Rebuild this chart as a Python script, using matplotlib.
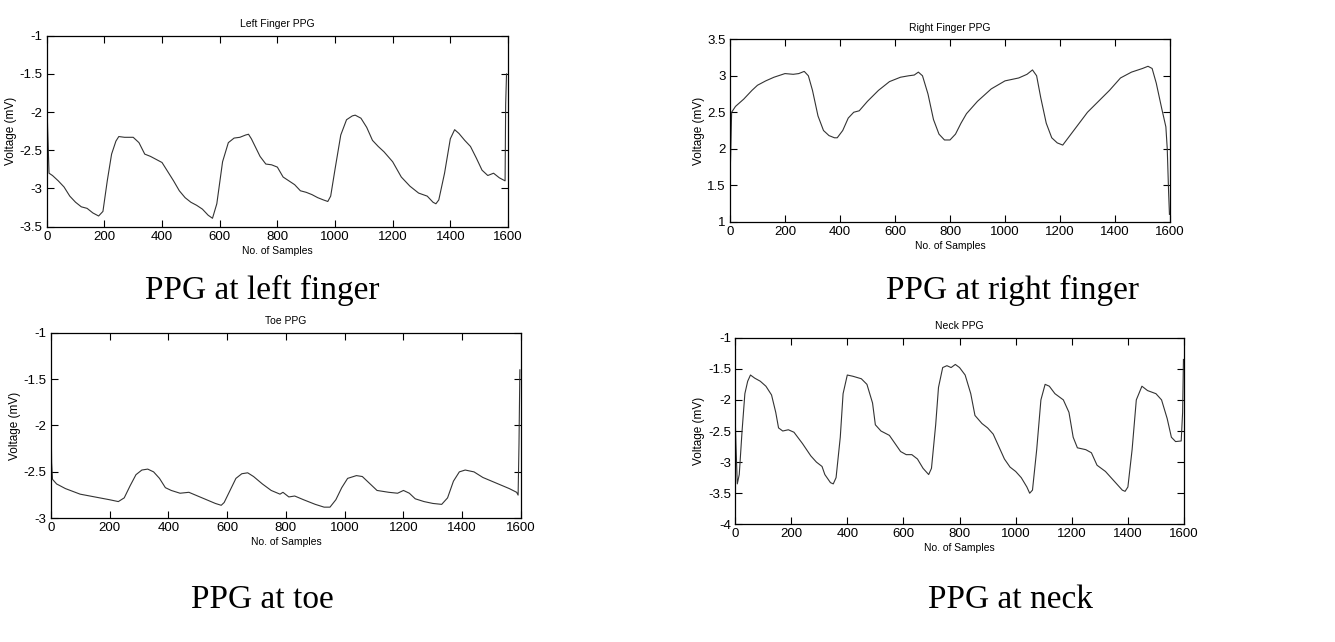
import matplotlib.pyplot as plt

plt.rcParams['font.family'] = ['Liberation Sans', 'DejaVu Sans']

# Digitised samples (sample index, voltage) for each recording site
left_x = [0, 3, 8, 20, 40, 60, 80, 100, 120, 140, 160, 180, 195, 210, 225, 240, 250, 270, 300, 320,
          340, 360, 380, 400, 420, 440, 460, 480, 500, 520, 540, 560, 575, 590, 610, 630, 650, 670,
          690, 700, 710, 740, 760, 780, 800, 820, 840, 860, 880, 900, 920, 940, 960, 975, 985, 1000,
          1020, 1040, 1060, 1070, 1090, 1110, 1130, 1150, 1170, 1200, 1230, 1260, 1290, 1320, 1340,
          1350, 1360, 1380, 1400, 1415, 1430, 1450, 1470, 1490, 1510, 1530, 1550, 1570, 1590, 1592, 1595]
left_y = [-1.75, -2.2, -2.8, -2.83, -2.9, -2.98, -3.1, -3.18, -3.24, -3.26, -3.32, -3.36, -3.3, -2.9,
          -2.55, -2.38, -2.32, -2.33, -2.33, -2.4, -2.55, -2.58, -2.62, -2.66, -2.78, -2.9, -3.03, -3.12,
          -3.18, -3.22, -3.27, -3.35, -3.39, -3.2, -2.65, -2.4, -2.34, -2.33, -2.3, -2.29, -2.35, -2.58,
          -2.68, -2.69, -2.72, -2.85, -2.9, -2.95, -3.03, -3.05, -3.08, -3.12, -3.15, -3.17, -3.1, -2.75,
          -2.3, -2.1, -2.05, -2.04, -2.08, -2.2, -2.37, -2.45, -2.52, -2.65, -2.85, -2.97, -3.06, -3.1,
          -3.18, -3.2, -3.15, -2.8, -2.35, -2.23, -2.28, -2.37, -2.45, -2.6, -2.76, -2.83, -2.8, -2.86,
          -2.9, -1.9, -1.5]

right_x = [0, 3, 6, 20, 50, 80, 100, 130, 160, 200, 230, 250, 270, 285, 300, 320, 340, 360, 380, 390,
           410, 430, 450, 470, 500, 540, 580, 620, 650, 670, 685, 700, 720, 740, 760, 780, 800, 820, 840,
           860, 900, 950, 1000, 1050, 1080, 1100, 1115, 1130, 1150, 1170, 1190, 1210, 1230, 1260, 1300,
           1340, 1380, 1420, 1460, 1500, 1520, 1535, 1550, 1570, 1585, 1590, 1595, 1598]
right_y = [1.55, 2.0, 2.5, 2.58, 2.68, 2.8, 2.87, 2.93, 2.98, 3.03, 3.02, 3.03, 3.06, 3.0, 2.8, 2.45,
           2.25, 2.18, 2.15, 2.15, 2.25, 2.42, 2.5, 2.52, 2.65, 2.8, 2.92, 2.98, 3.0, 3.01, 3.05, 3.0,
           2.75, 2.4, 2.2, 2.12, 2.12, 2.2, 2.35, 2.48, 2.65, 2.82, 2.93, 2.97, 3.02, 3.08, 3.0, 2.7,
           2.35, 2.15, 2.08, 2.05, 2.15, 2.3, 2.5, 2.65, 2.8, 2.97, 3.05, 3.1, 3.13, 3.1, 2.9, 2.55,
           2.3, 2.0, 1.4, 1.1]

toe_x = [0, 3, 6, 20, 50, 100, 150, 200, 230, 250, 270, 290, 310, 330, 350, 370, 390, 410, 440, 470,
         500, 530, 560, 580, 590, 610, 630, 650, 670, 690, 720, 750, 780, 790, 810, 830, 860, 900, 930,
         950, 970, 990, 1010, 1040, 1060, 1090, 1110, 1150, 1180, 1200, 1220, 1240, 1270, 1300, 1330,
         1350, 1370, 1390, 1410, 1440, 1470, 1500, 1530, 1560, 1585, 1590, 1593, 1596]
toe_y = [-1.6, -2.4, -2.58, -2.63, -2.68, -2.74, -2.77, -2.8, -2.82, -2.78, -2.65, -2.53, -2.48, -2.47,
         -2.5, -2.57, -2.67, -2.7, -2.73, -2.72, -2.76, -2.8, -2.84, -2.86, -2.83, -2.7, -2.57, -2.52,
         -2.51, -2.55, -2.63, -2.7, -2.74, -2.72, -2.77, -2.76, -2.8, -2.85, -2.88, -2.88, -2.8, -2.67,
         -2.57, -2.54, -2.55, -2.64, -2.7, -2.72, -2.73, -2.7, -2.73, -2.79, -2.82, -2.84, -2.85, -2.78,
         -2.6, -2.5, -2.48, -2.5, -2.56, -2.6, -2.64, -2.68, -2.72, -2.75, -2.2, -1.4]

neck_x = [0, 3, 8, 15, 25, 35, 45, 55, 70, 90, 110, 130, 145, 155, 170, 190, 210, 240, 270, 290, 310,
          320, 340, 350, 360, 375, 385, 400, 420, 450, 470, 490, 500, 520, 550, 570, 590, 610, 630, 650,
          670, 690, 700, 715, 725, 740, 755, 770, 785, 800, 820, 840, 855, 880, 900, 920, 940, 960, 980,
          1000, 1020, 1040, 1050, 1060, 1075, 1090, 1105, 1120, 1140, 1170, 1190, 1205, 1220, 1250,
          1270, 1290, 1320, 1350, 1380, 1390, 1400, 1415, 1430, 1450, 1470, 1500, 1520, 1540, 1555,
          1570, 1590, 1595, 1598]
neck_y = [-2.2, -2.7, -3.35, -3.2, -2.5, -1.9, -1.7, -1.6, -1.65, -1.7, -1.78, -1.92, -2.2, -2.45, -2.5,
          -2.48, -2.52, -2.7, -2.9, -3.0, -3.07, -3.2, -3.33, -3.35, -3.25, -2.6, -1.9, -1.6, -1.62,
          -1.66, -1.75, -2.05, -2.4, -2.5, -2.57, -2.7, -2.83, -2.88, -2.88, -2.95, -3.1, -3.2, -3.1,
          -2.4, -1.8, -1.48, -1.45, -1.48, -1.43, -1.48, -1.6, -1.9, -2.25, -2.38, -2.45, -2.55, -2.75,
          -2.95, -3.08, -3.15, -3.25, -3.4, -3.5, -3.45, -2.8, -2.0, -1.75, -1.78, -1.9, -2.0, -2.2,
          -2.6, -2.77, -2.8, -2.85, -3.05, -3.15, -3.3, -3.45, -3.47, -3.4, -2.8, -2.0, -1.78, -1.85,
          -1.9, -2.0, -2.3, -2.6, -2.67, -2.66, -2.2, -1.35]

panels = [
    ('Left Finger PPG', left_x, left_y, (-3.5, -1), [-3.5, -3, -2.5, -2, -1.5, -1], ['-3.5', '-3', '-2.5', '-2', '-1.5', '-1'],
     [0.035, 0.6469, 0.3455, 0.2975], 'PPG at left finger', (262, 290)),
    ('Right Finger PPG', right_x, right_y, (1, 3.5), [1, 1.5, 2, 2.5, 3, 3.5], ['1', '1.5', '2', '2.5', '3', '3.5'],
     [0.5468, 0.6547, 0.3296, 0.2841], 'PPG at right finger', (1012, 290)),
    ('Toe PPG', toe_x, toe_y, (-3, -1), [-3, -2.5, -2, -1.5, -1], ['-3', '-2.5', '-2', '-1.5', '-1'],
     [0.038, 0.1927, 0.3523, 0.2891], 'PPG at toe', (262, 600)),
    ('Neck PPG', neck_x, neck_y, (-4, -1), [-4, -3.5, -3, -2.5, -2, -1.5, -1], ['-4', '-3.5', '-3', '-2.5', '-2', '-1.5', '-1'],
     [0.5506, 0.1833, 0.3363, 0.2907], 'PPG at neck', (1010, 600)),
]

fig = plt.figure(figsize=(13.35, 6.42), dpi=100)

for title, xs, ys, ylim, yticks, ylabels, rect, caption, cpos in panels:
    ax = fig.add_axes(rect)
    ax.plot(xs, ys, color='#333333', linewidth=0.8)
    ax.set_xlim(0, 1600)
    ax.set_ylim(*ylim)
    ax.set_xticks(range(0, 1601, 200))
    ax.set_yticks(yticks)
    ax.set_yticklabels(ylabels)
    ax.tick_params(direction='in', top=True, right=True, length=5, width=0.8, labelsize=9.5, pad=3)
    for s in ax.spines.values():
        s.set_linewidth(0.9)
    ax.set_title(title, fontsize=7.5, pad=6)
    ax.set_xlabel('No. of Samples', fontsize=7.5, labelpad=2)
    ax.set_ylabel('Voltage (mV)', fontsize=8.5, labelpad=2)
    fig.text(cpos[0] / 1335, 1 - cpos[1] / 642, caption, ha='center', va='center',
             fontsize=24, family=['Liberation Serif', 'DejaVu Serif'])

plt.savefig('out.png', dpi=100)
